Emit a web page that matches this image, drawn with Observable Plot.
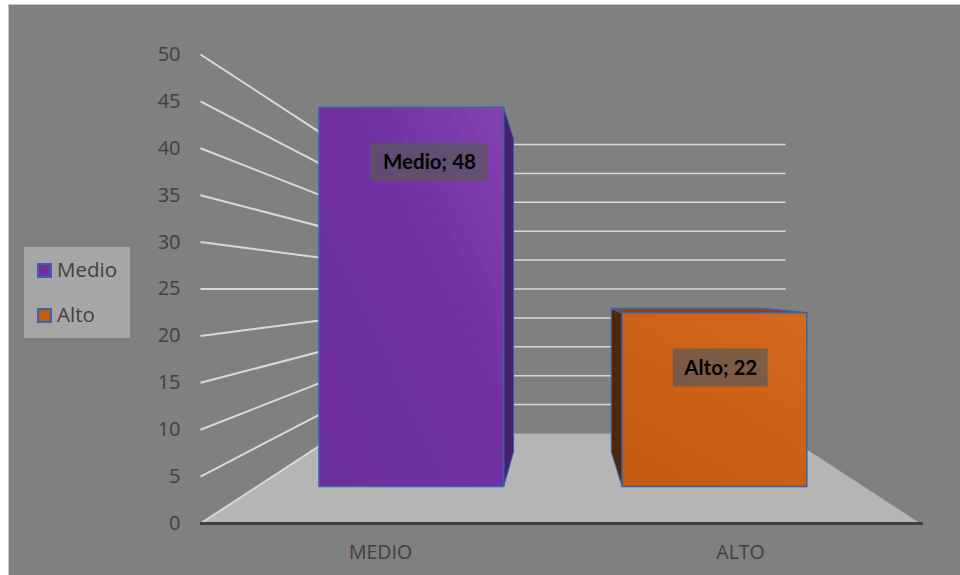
<!DOCTYPE html>
<html>
<head>
<meta charset="utf-8">
<script src="https://cdn.jsdelivr.net/npm/d3@7"></script>
<script src="https://cdn.jsdelivr.net/npm/@observablehq/plot@0.6"></script>
<style>
  html, body { margin: 0; padding: 0; background: #fff; }
  #chart { position: relative; width: 960px; height: 575px; overflow: hidden; }
  #panel { position: absolute; left: 8px; top: 4px; right: -2px; bottom: -2px; background: #808080; border: 1px solid #c6c6c6; }
  #chart svg { position: absolute; left: 0; top: 0; background: transparent; }
  #legend { position: absolute; left: 24px; top: 247px; width: 106px; height: 91px; background: #a6a6a6;
            font: 20.5px "Open Sans", sans-serif; color: #404040; }
  #legend div { position: absolute; left: 13px; height: 24px; line-height: 24px; white-space: nowrap; }
  #legend i { display: inline-block; width: 11px; height: 11px; border: 2px solid #3c62a8; margin-right: 5px; vertical-align: -1px; }
</style>
</head>
<body>
<div id="chart"><div id="panel"></div></div>
<script>
// Chart values
const categories = ["MEDIO", "ALTO"];
const seriesNames = ["Medio", "Alto"];
const values = [48, 22];
const yTicks = [0, 5, 10, 15, 20, 25, 30, 35, 40, 45, 50];
const gridValues = yTicks.slice(1);

// Fill colours for each series
const frontFills = ["url(#purpleFace)", "url(#orangeFace)"];
const legendFills = ["#7030a0", "#c55a11"];
const sideFills = ["#45206c", "#4f2608"];
const topFill = "#85461a";
const labelFont = "Lato, sans-serif";
const outline = "#3c62a8";

// Perspective model: points shrink toward the horizon (value 25) as depth grows.
// Each plane has a scale factor relative to the front edge of the floor.
const horizon = 25;
const plane = {front: 1, barFront: 0.842, barBack: 0.695, wall: 0.616};
const floorHalfWidth = 38.4;
const barCenters = [-18.9, 19.5];
const barHalfWidth = 11.7;
const tickCenters = [-19.2, 19.2];
const project = (x, v, p) => ({x: x * p, y: horizon + (v - horizon) * p});

const quad = (...corners) => {
  const pts = corners.map(([x, v, p]) => project(x, v, p));
  return [...pts, pts[0]];
};

// Floor, wall gridlines
const floor = quad(
  [-floorHalfWidth, 0, plane.front],
  [-floorHalfWidth, 0, plane.wall],
  [floorHalfWidth, 0, plane.wall],
  [floorHalfWidth, 0, plane.front]
);
const sideGrid = yTicks.map((v) => {
  const a = project(-floorHalfWidth, v, plane.front);
  const b = project(-floorHalfWidth, v, plane.wall);
  return {x1: a.x, y1: a.y, x2: b.x, y2: b.y};
});
const backGrid = gridValues.map((v) => {
  const a = project(-floorHalfWidth, v, plane.wall);
  const b = project(floorHalfWidth * 1.015, v, plane.wall);
  return {x1: a.x, y1: a.y, x2: b.x, y2: b.y};
});

// Faces of one bar: the side toward the centre and, below the horizon, the top
function barMarks(i) {
  const v = values[i], l = barCenters[i] - barHalfWidth, r = barCenters[i] + barHalfWidth;
  const {barFront: f, barBack: b} = plane;
  const edge = barCenters[i] < 0 ? r : l;
  const style = {x: "x", y: "y", stroke: outline, strokeLinejoin: "round"};
  const marks = [
    Plot.line(quad([edge, 0, f], [edge, 0, b], [edge, v, b], [edge, v, f]),
      {...style, fill: sideFills[i], strokeWidth: 1}),
  ];
  if (v < horizon) {
    marks.push(Plot.line(quad([l, v, f], [l, v, b], [r, v, b], [r, v, f]),
      {...style, fill: topFill, strokeWidth: 1.5}));
  }
  marks.push(Plot.line(quad([l, 0, f], [l, v, f], [r, v, f], [r, 0, f]),
    {...style, fill: frontFills[i], strokeWidth: 1.5}));
  return marks;
}

// Value labels sit on the bar's front plane with a translucent plate behind the text
const labelDrop = 7;
const labelShift = [2.3, 0.8];
const plateHalfWidth = [7.45, 6];
const plateHalfHeight = 2.4;
const labels = values.map((v, i) => {
  const cx = barCenters[i] + labelShift[i];
  const c = project(cx, v - labelDrop, plane.barFront);
  const a = project(cx - plateHalfWidth[i], v - labelDrop + plateHalfHeight, plane.barFront);
  const b = project(cx + plateHalfWidth[i], v - labelDrop - plateHalfHeight, plane.barFront);
  return {x: c.x, y: c.y, x1: a.x, y1: a.y, x2: b.x, y2: b.y, text: `${seriesNames[i]}; ${v}`};
});

// Gradients for the front faces, added as a bare SVG fragment
const gradients = () => {
  const g = document.createElementNS("http://www.w3.org/2000/svg", "g");
  g.innerHTML = `<defs>
    <linearGradient id="purpleFace" x1="0" y1="1" x2="1" y2="0">
      <stop offset="0" stop-color="#6d2f9c"/><stop offset="0.6" stop-color="#7131a2"/><stop offset="1" stop-color="#8442b2"/>
    </linearGradient>
    <linearGradient id="orangeFace" x1="0.2" y1="1" x2="0.8" y2="0">
      <stop offset="0" stop-color="#c55a11"/><stop offset="1" stop-color="#d4671e"/>
    </linearGradient></defs>`;
  return g;
};

const plot = Plot.plot({
  width: 960,
  height: 575,
  marginLeft: 200,
  marginRight: 40,
  marginTop: 54,
  marginBottom: 52,
  style: {background: "transparent", color: "#404040"},
  x: {domain: [-floorHalfWidth, floorHalfWidth]},
  y: {domain: [0, 50]},
  marks: [
    gradients,
    Plot.line(floor, {x: "x", y: "y", fill: "#b5b5b5", stroke: "none"}),
    Plot.link(sideGrid, {x1: "x1", y1: "y1", x2: "x2", y2: "y2", stroke: "#d9d9d9", strokeWidth: 2}),
    Plot.link(backGrid, {x1: "x1", y1: "y1", x2: "x2", y2: "y2", stroke: "#d9d9d9", strokeWidth: 1.5}),
    ...barMarks(0),
    ...barMarks(1),
    Plot.rect(labels, {x1: "x1", x2: "x2", y1: "y1", y2: "y2", fill: "#595959", fillOpacity: 0.7}),
    Plot.text(labels, {x: "x", y: "y", text: "text", fill: "#000", fontFamily: labelFont, fontWeight: 700, fontSize: 20.5}),
    Plot.ruleY([0], {x1: -floorHalfWidth, x2: floorHalfWidth * 1.008, stroke: "#404040", strokeWidth: 3}),
    Plot.axisY({ticks: yTicks, tickSize: 0, tickPadding: 20, label: null, fontFamily: "Open Sans, sans-serif", fontSize: 20, fill: "#404040"}),
    Plot.axisX({ticks: tickCenters, tickFormat: (d) => categories[tickCenters.indexOf(d)], tickSize: 0, tickPadding: 22,
      label: null, fontFamily: "Open Sans, sans-serif", fontSize: 19.5, fill: "#404040"})
  ]
});

const chart = document.getElementById("chart");
chart.appendChild(plot);

// Legend built from the series names
const legend = document.createElement("div");
legend.id = "legend";
seriesNames.forEach((name, i) => {
  const row = document.createElement("div");
  row.style.top = `${10 + i * 45}px`;
  const swatch = document.createElement("i");
  swatch.style.background = legendFills[i];
  row.appendChild(swatch);
  row.appendChild(document.createTextNode(name));
  legend.appendChild(row);
});
chart.appendChild(legend);
</script>
</body>
</html>
